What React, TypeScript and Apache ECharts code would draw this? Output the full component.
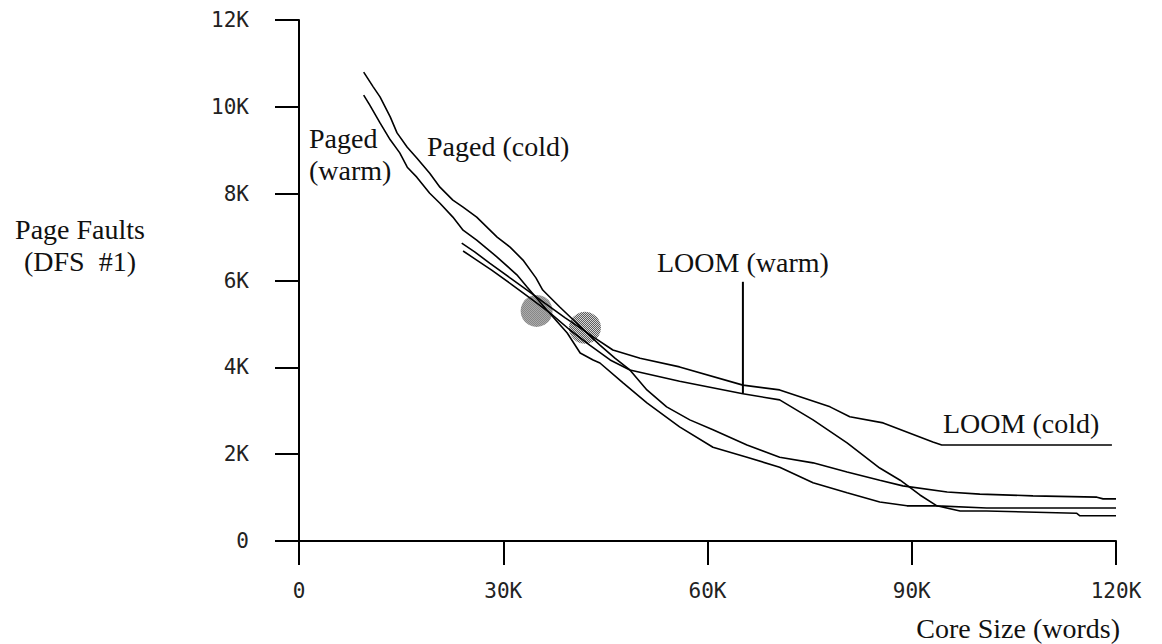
import React, { useEffect, useRef } from "react";
import * as echarts from "echarts";

// Core size in K words, page faults in K faults.
const pagedCold: [number, number][] = [
  [9.5, 10.8], [10.9, 10.46], [11.9, 10.23], [13.4, 9.77], [14.4, 9.4], [15.9, 9.07],
  [17.3, 8.82], [19.2, 8.47], [20.7, 8.15], [22.6, 7.85], [24.1, 7.69], [26.1, 7.46],
  [29.1, 7.0], [31.0, 6.77], [32.9, 6.47], [34.8, 6.06], [35.8, 5.78], [38.3, 5.39],
  [42.3, 4.79], [44.2, 4.51], [46.4, 4.21], [48.6, 3.94], [51.1, 3.48], [54.0, 3.09],
  [57.4, 2.79], [60.8, 2.56], [65.8, 2.21], [70.6, 1.93], [75.5, 1.8], [80.5, 1.59],
  [85.3, 1.4], [88.7, 1.27], [95.2, 1.13], [100.0, 1.08], [107.8, 1.04], [117.2, 1.01],
  [118.1, 0.97], [120.0, 0.97],
];

const pagedWarm: [number, number][] = [
  [9.5, 10.27], [10.4, 10.04], [11.9, 9.63], [13.4, 9.24], [14.8, 8.94], [15.9, 8.61],
  [17.3, 8.38], [19.2, 8.01], [20.7, 7.78], [22.6, 7.46], [24.1, 7.16], [26.1, 6.93],
  [29.1, 6.54], [32.0, 6.13], [33.5, 5.85], [36.4, 5.32], [39.4, 4.79], [41.3, 4.33],
  [43.2, 4.17], [44.2, 4.1], [47.6, 3.64], [51.1, 3.18], [55.9, 2.63], [60.8, 2.16],
  [65.8, 1.93], [70.6, 1.7], [75.5, 1.34], [80.5, 1.11], [85.3, 0.9], [89.3, 0.81],
  [93.7, 0.81], [97.1, 0.69], [101.0, 0.69], [114.2, 0.64], [114.7, 0.58], [120.0, 0.58],
];

const loomCold: [number, number][] = [
  [23.9, 6.86], [25.8, 6.66], [28.0, 6.4], [31.0, 6.06], [33.5, 5.78], [36.1, 5.48],
  [39.1, 5.14], [41.3, 4.91], [43.2, 4.7], [46.1, 4.4], [50.1, 4.21], [55.9, 4.01],
  [65.2, 3.59], [70.6, 3.48], [78.0, 3.09], [80.9, 2.86], [85.8, 2.72], [93.1, 2.28],
  [94.4, 2.21], [119.4, 2.21],
];

const loomWarm: [number, number][] = [
  [24.1, 6.68], [26.1, 6.47], [28.3, 6.24], [31.3, 5.9], [33.9, 5.6], [36.9, 5.25],
  [39.8, 4.86], [42.7, 4.51], [45.7, 4.17], [48.6, 3.94], [55.9, 3.68], [65.2, 3.39],
  [70.6, 3.25], [75.5, 2.79], [80.5, 2.26], [85.3, 1.68], [88.3, 1.4], [91.2, 1.06],
  [93.7, 0.81], [101.0, 0.76], [120.0, 0.76],
];

// Shaded crossover spots
const crossovers: [number, number][] = [
  [34.9, 5.3],
  [42.0, 4.91],
];

// Leader line from the "LOOM (warm)" caption down to its curve
const warmLeader: [number, number][] = [
  [65.2, 5.97],
  [65.2, 3.39],
];

const xTicks = [0, 30, 60, 90, 120];
const yTicks = [0, 2, 4, 6, 8, 10, 12];

const tickFont = "'DejaVu Sans Mono', 'Liberation Mono', monospace";
const serif = "'Liberation Serif', 'DejaVu Serif', serif";

const SPOT_SIZE = 32;

function stipple(): HTMLCanvasElement {
  const c = document.createElement("canvas");
  c.width = 2;
  c.height = 2;
  const g = c.getContext("2d")!;
  g.fillStyle = "#ffffff";
  g.fillRect(0, 0, 2, 2);
  g.fillStyle = "#000000";
  g.fillRect(0, 0, 1, 1);
  g.fillRect(1, 1, 1, 1);
  return c;
}

export default function App() {
  const ref = useRef<HTMLDivElement>(null);

  useEffect(() => {
    if (!ref.current) return;
    const chart = echarts.init(ref.current, undefined, { renderer: "svg" });

    const curve = (name: string, data: [number, number][]) => ({
      name,
      type: "line",
      data,
      showSymbol: false,
      symbol: "none",
      lineStyle: { color: "#000", width: 1.6 },
      z: 3,
    });

    const label = (text: string, x: number, y: number, align: string = "left") => ({
      type: "text",
      x,
      y,
      style: {
        text,
        font: `28px ${serif}`,
        fill: "#111",
        textAlign: align,
        textVerticalAlign: "middle",
        lineHeight: 32,
      },
      z: 10,
    });

    // symbol paths are unit shapes scaled up, so shrink the pattern to compensate
    const k = 2 / SPOT_SIZE;

    chart.setOption({
      animation: false,
      backgroundColor: "#ffffff",
      grid: { left: 299, right: 46, top: 20, bottom: 103, containLabel: false },
      xAxis: {
        type: "value",
        min: xTicks[0],
        max: xTicks[xTicks.length - 1],
        interval: 30,
        axisLine: { show: true, onZero: false, lineStyle: { color: "#000", width: 2 } },
        axisTick: { show: true, length: 24, lineStyle: { color: "#000", width: 2 } },
        splitLine: { show: false },
        axisLabel: {
          margin: 39,
          fontFamily: tickFont,
          fontSize: 21,
          color: "#222",
          formatter: (v: number) => (v === 0 ? "0" : `${v}K`),
        },
      },
      yAxis: {
        type: "value",
        min: yTicks[0],
        max: yTicks[yTicks.length - 1],
        interval: 2,
        axisLine: { show: true, onZero: false, lineStyle: { color: "#000", width: 2 } },
        axisTick: { show: true, length: 24, lineStyle: { color: "#000", width: 2 } },
        splitLine: { show: false },
        axisLabel: {
          margin: 50,
          fontFamily: tickFont,
          fontSize: 21,
          color: "#222",
          formatter: (v: number) => (v === 0 ? "0" : `${v}K`),
        },
      },
      series: [
        curve("Paged (cold)", pagedCold),
        curve("Paged (warm)", pagedWarm),
        curve("LOOM (cold)", loomCold),
        curve("LOOM (warm)", loomWarm),
        {
          name: "leader",
          type: "line",
          data: warmLeader,
          showSymbol: false,
          symbol: "none",
          lineStyle: { color: "#000", width: 2 },
          z: 3,
        },
        {
          name: "crossover",
          type: "scatter",
          data: crossovers,
          symbol: "circle",
          symbolSize: SPOT_SIZE,
          itemStyle: {
            color: { image: stipple(), repeat: "repeat", scaleX: k, scaleY: k },
            opacity: 0.8,
          },
          z: 2,
        },
      ],
      graphic: [
        label("Page Faults\n(DFS  #1)", 80, 245, "center"),
        label("Paged\n(warm)", 309, 154),
        label("Paged (cold)", 427, 146),
        label("LOOM (warm)", 657, 262),
        label("LOOM (cold)", 943, 423),
        label("Core Size (words)", 1120, 628, "right"),
      ],
    });

    return () => chart.dispose();
  }, []);

  return (
    <div
      ref={ref}
      style={{ position: "absolute", left: 0, top: 0, width: 1162, height: 644, background: "#fff" }}
    />
  );
}
